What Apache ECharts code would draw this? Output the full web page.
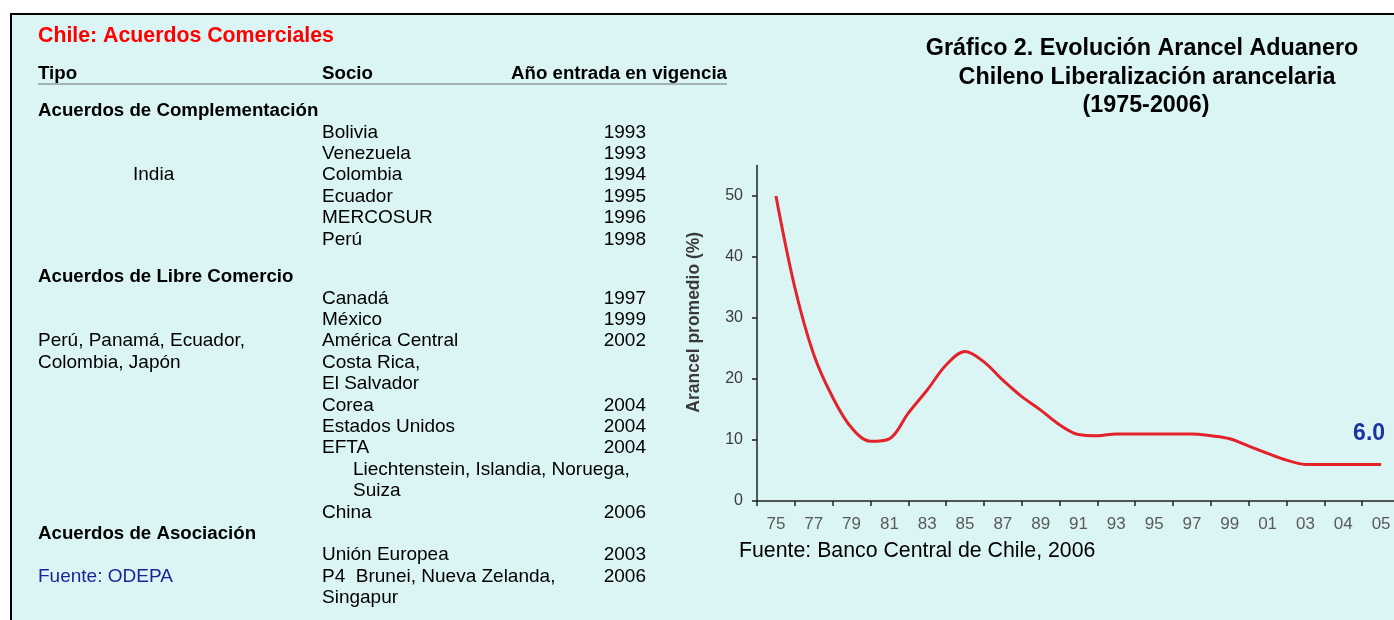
<!DOCTYPE html>
<html><head><meta charset="utf-8">
<script src="https://cdn.jsdelivr.net/npm/echarts@6/dist/echarts.min.js"></script>
<style>
html,body{margin:0;padding:0;background:#fff;overflow:hidden;width:1394px;height:620px;}
#marco{position:absolute;left:10px;top:13px;width:1400px;height:620px;background:#dbf5f5;border-left:2px solid #000;border-top:2px solid #000;}
#c{position:absolute;left:0;top:0;width:1394px;height:620px;}
</style>
</head><body><div id="marco"></div><div id="c"></div>
<script>
// ---- Datos del gráfico ----
const etiquetasEje = ['75','77','79','81','83','85','87','89','91','93','95','97','99','01','03','04','05'];
const aniosEje = [1975,1977,1979,1981,1983,1985,1987,1989,1991,1993,1995,1997,1999,2001,2003,2004,2005];
const aniosSerie = [1975,1976,1977,1978,1979,1980,1981,1982,1983,1984,1985,1986,1987,1988,1989,1990,
                    1991,1992,1993,1994,1995,1996,1997,1998,1999,2000,2001,2002,2003,2004,2005];
const arancelPromedio = [50,35,24,17,12,9.8,10.2,14.4,18.2,22.3,24.5,22.8,19.8,17.1,14.9,12.5,
                         10.9,10.7,11,11,11,11,11,10.7,10.2,9.0,7.8,6.7,6.0,6.0,6.0];
const ticksY = [0,10,20,30,40,50];

// ---- Datos de la tabla ----
const encabezados = ['Tipo','Socio','Año entrada en vigencia'];
const complementacionSocios = ['Bolivia','Venezuela','Colombia','Ecuador','MERCOSUR','Perú'];
const complementacionAnios  = ['1993','1993','1994','1995','1996','1998'];
const complementacionTipo   = ['','','India','','',''];
const libreComercioSocios = ['Canadá','México','América Central','Costa Rica,','El Salvador','Corea','Estados Unidos','EFTA'];
const libreComercioAnios  = ['1997','1999','2002','','','2004','2004','2004'];
const libreComercioTipo   = ['','','Perú, Panamá, Ecuador,','Colombia, Japón','','','',''];
const eftaMiembros = ['Liechtenstein, Islandia, Noruega,','Suiza'];
const libreComercioFinal = ['China'];
const libreComercioFinalAnios = ['2006'];
const asociacionSocios = ['Unión Europea','P4  Brunei, Nueva Zelanda,','Singapur'];
const asociacionAnios  = ['2003','2006',''];

const FONT = '"Liberation Sans", Arial, sans-serif';

function posicionEnEje(anio){
  const i = aniosEje.indexOf(anio);
  if (i >= 0) return i;
  for (let k = 0; k < aniosEje.length - 1; k++) {
    if (aniosEje[k] < anio && anio < aniosEje[k+1]) return k + (anio - aniosEje[k]) / (aniosEje[k+1] - aniosEje[k]);
  }
  return NaN;
}

const g = [];
function txt(x, y, text, opt){
  opt = opt || {};
  g.push({type:'text', x:x, y:y, silent:true, style:{text:text, fontFamily:FONT, fontSize:opt.size||19,
    fontWeight:opt.bold?'bold':'normal', fill:opt.color||'#000', align:opt.align||'left', verticalAlign:'middle'}});
}
const BOLD = 18.7;
// table
txt(38, 36, 'Chile: Acuerdos Comerciales', {bold:true, size:21.3, color:'#ff0000'});
txt(38, 74, encabezados[0], {bold:true, size:BOLD});
txt(322, 74, encabezados[1], {bold:true, size:BOLD});
txt(511, 74, encabezados[2], {bold:true, size:BOLD});
g.push({type:'line', silent:true, shape:{x1:38,y1:84,x2:727,y2:84}, style:{stroke:'#a3b3b6', lineWidth:2}});

const step = 21.4;
const xT = 38, xS = 322, xSub = 353, xA = 646;
let y = 111;
txt(xT, y, 'Acuerdos de Complementación', {bold:true, size:BOLD});
complementacionSocios.forEach((s,i)=>{
  const yy = y + step*(i+1);
  txt(xS, yy, s); txt(xA, yy, complementacionAnios[i], {align:'right'});
  if (complementacionTipo[i]) txt(133, yy, complementacionTipo[i]);
});
y = 277;
txt(xT, y, 'Acuerdos de Libre Comercio', {bold:true, size:BOLD});
let k = 1;
libreComercioSocios.forEach((s,i)=>{
  const yy = y + step*k; k++;
  txt(xS, yy, s); if (libreComercioAnios[i]) txt(xA, yy, libreComercioAnios[i], {align:'right'});
  if (libreComercioTipo[i]) txt(xT, yy, libreComercioTipo[i]);
});
eftaMiembros.forEach(s=>{ txt(xSub, y + step*k, s); k++; });
libreComercioFinal.forEach((s,i)=>{ const yy = y + step*k; k++; txt(xS, yy, s); txt(xA, yy, libreComercioFinalAnios[i], {align:'right'}); });
txt(xT, y + step*k, 'Acuerdos de Asociación', {bold:true, size:BOLD}); k++;
asociacionSocios.forEach((s,i)=>{
  const yy = y + step*k; k++;
  txt(xS, yy, s); if (asociacionAnios[i]) txt(xA, yy, asociacionAnios[i], {align:'right'});
  if (i === 1) txt(xT, yy, 'Fuente: ODEPA', {color:'#1f1f99'});
});
// chart title and source
txt(1142, 49, 'Gráfico 2. Evolución Arancel Aduanero', {bold:true, size:23.3, align:'center'});
txt(1147, 77.5, 'Chileno Liberalización arancelaria', {bold:true, size:23.3, align:'center'});
txt(1146, 106, '(1975-2006)', {bold:true, size:23.3, align:'center'});
txt(739, 551, 'Fuente: Banco Central de Chile, 2006', {size:21.3});

const serie = aniosSerie.map((a,i)=>[posicionEnEje(a), arancelPromedio[i]]);
const ultimo = serie[serie.length-1];

const chart = echarts.init(document.getElementById('c'), null, {renderer:'canvas'});
chart.setOption({
  animation:false,
  backgroundColor:'transparent',
  textStyle:{fontFamily:FONT},
  grid:{left:757, top:165.5, right:-6, bottom:119, containLabel:false, outerBoundsMode:'none'},
  xAxis:[
    {type:'category', data:etiquetasEje, boundaryGap:true,
     axisLine:{show:true, onZero:false, lineStyle:{color:'#222', width:1.5}},
     axisTick:{show:true, length:5, interval:0, lineStyle:{color:'#222', width:1.5}},
     axisLabel:{show:true, interval:0, color:'#5a5a5a', fontSize:17, margin:15, fontFamily:FONT},
     splitLine:{show:false}},
    {type:'value', min:-0.5, max:16.5, show:false}
  ],
  yAxis:{type:'value', min:0, max:55,
    name:'Arancel promedio (%)', nameLocation:'middle', nameGap:54,
    nameTextStyle:{color:'#3a3a3a', fontWeight:'bold', fontSize:17.5, fontFamily:FONT, padding:[0,0,0,22]},
    axisLine:{show:true, onZero:false, lineStyle:{color:'#222', width:1.5}},
    axisTick:{show:true, length:5, customValues:ticksY, lineStyle:{color:'#222', width:1.5}},
    axisLabel:{show:true, customValues:ticksY, color:'#3c3c3c', fontSize:16, margin:14, fontFamily:FONT},
    splitLine:{show:false}},
  series:[{
    type:'line', xAxisIndex:1, data:serie, smooth:0.35, showSymbol:false,
    lineStyle:{color:'#e3222a', width:3},
    markPoint:{symbol:'circle', symbolSize:1, itemStyle:{color:'rgba(0,0,0,0)'},
      label:{show:true, position:'top', distance:0, offset:[-12,-19],
        formatter:()=>ultimo[1].toFixed(1), color:'#1c33a3', fontWeight:'bold', fontSize:23, fontFamily:FONT},
      data:[{coord:ultimo}]}
  }],
  graphic:g
});
</script>
</body></html>
